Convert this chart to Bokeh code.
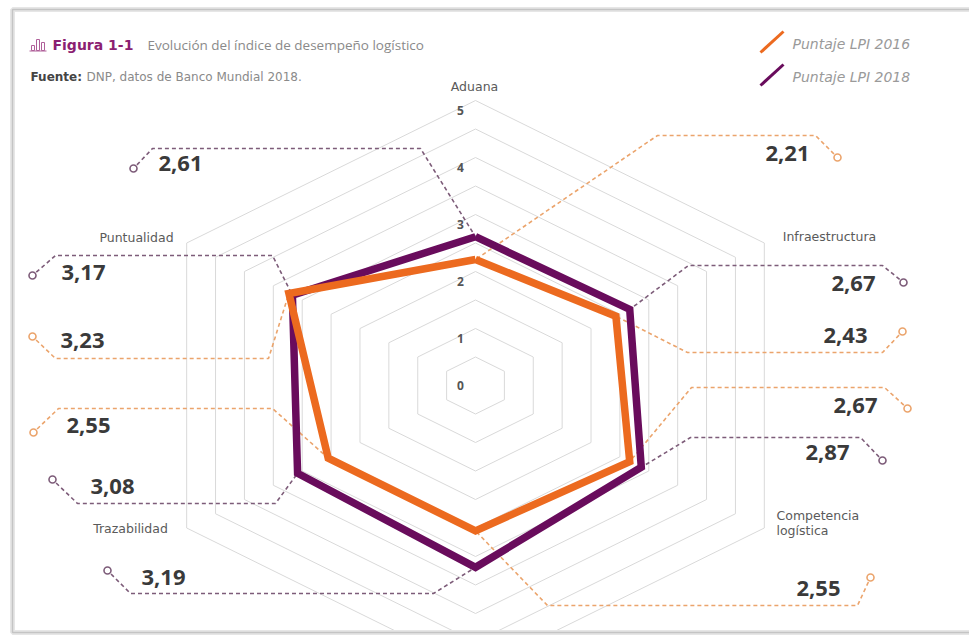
from bokeh.plotting import figure
from bokeh.models import Range1d
from bokeh.core.properties import value
from bokeh.embed import file_html
from bokeh.resources import INLINE
import math

# ---------------- data ----------------
CATEGORIES = ["Aduana", "Infraestructura", "Competencia logística",
              "Envíos internacionales", "Trazabilidad", "Puntualidad"]
ANGLES_DEG = [90, 30, -30, -90, -150, 150]
LPI_2016 = [2.21, 2.43, 2.67, 2.55, 2.55, 3.23]
LPI_2018 = [2.61, 2.67, 2.87, 3.19, 3.08, 3.17]
TICKS = [0, 1, 2, 3, 4, 5]
RINGS = [0.5, 1.0, 1.5, 2.0, 2.5, 3.0, 3.5, 4.0, 4.5, 5.0]
SERIES_NAMES = ["Puntaje LPI 2016", "Puntaje LPI 2018"]

# ---------------- layout / style ----------------
CX, CY = 475.0, 385.0      # chart centre (px)
SX, SY = 66.7, 57.0        # px per value unit (horizontal / vertical)
PURPLE = "#690c5c"
ORANGE = "#ec6a1f"
PURPLE_LEAD = "#7d5c79"
ORANGE_LEAD = "#eba46c"
TXT = "#3a3a3a"
GRAY = "#8a8a8a"
FONT = "Open Sans"
WIDE = "DejaVu Sans"

# leader layout: text centre, circle, knee near circle, far end of horizontal run
LEADERS = {
    ("2018", 0): dict(t=(180, 163), c=(133, 168), k1=(152, 148), k2=(420, 148)),
    ("2016", 0): dict(t=(787, 153), c=(837, 157), k1=(815, 135), k2=(657, 135)),
    ("2018", 1): dict(t=(853, 283), c=(903, 282), k1=(882, 265), k2=(688, 265)),
    ("2016", 1): dict(t=(845, 335), c=(902, 331), k1=(882, 352), k2=(687, 352)),
    ("2016", 2): dict(t=(855, 405), c=(907, 408), k1=(884, 387), k2=(691, 387)),
    ("2018", 2): dict(t=(827, 452), c=(882, 460), k1=(860, 437), k2=(690, 437)),
    ("2016", 3): dict(t=(818, 588), c=(870, 577), k1=(857, 605), k2=(547, 605)),
    ("2018", 3): dict(t=(163, 577), c=(107, 570), k1=(130, 593), k2=(433, 593)),
    ("2018", 4): dict(t=(112, 486), c=(52, 479), k1=(77, 503), k2=(275, 503)),
    ("2016", 4): dict(t=(88, 425), c=(33, 432), k1=(58, 408), k2=(272, 408)),
    ("2018", 5): dict(t=(83, 272), c=(32, 275), k1=(55, 255), k2=(272, 255)),
    ("2016", 5): dict(t=(82, 340), c=(32, 336), k1=(55, 358), k2=(268, 358)),
}

CAT_LABELS = {  # category index -> (x, y, align)
    0: (474, 86, "center"),
    1: (829, 236, "center"),
    2: (776, 515, "left"),
    4: (130, 528, "center"),
    5: (136, 237, "center"),
}


def to_xy(v, ang_deg):
    a = math.radians(ang_deg)
    return CX + v * SX * math.cos(a), CY - v * SY * math.sin(a)


p = figure(width=969, height=644, x_range=Range1d(0, 969), y_range=Range1d(644, 0),
           output_backend="svg", toolbar_location=None, min_border=0,
           x_axis_location=None, y_axis_location=None)
p.grid.visible = False
p.outline_line_color = None
p.background_fill_color = "white"
p.border_fill_color = "white"

# card background
p.quad(left=[12], right=[1000], top=[9], bottom=[632], fill_color="white", line_color=None)

# rings
ring_xs, ring_ys = [], []
for r in RINGS:
    pts = [to_xy(r, a) for a in ANGLES_DEG + [ANGLES_DEG[0]]]
    ring_xs.append([q[0] for q in pts])
    ring_ys.append([q[1] for q in pts])
p.multi_line(ring_xs, ring_ys, line_color="#d9d9d9", line_width=1)

# tick labels on the top axis
tick_x = [CX - 15 for t in TICKS]
tick_y = [to_xy(t, 90)[1] + (10 if t > 0 else 0) for t in TICKS]
p.text(x=tick_x, y=tick_y, text=[str(t) for t in TICKS], text_align="center",
       text_baseline="middle", text_font=value(FONT), text_font_size="12px",
       text_color="#555555", text_font_style="bold")

# leader lines
for key, lay in LEADERS.items():
    ser, idx = key
    vals = LPI_2016 if ser == "2016" else LPI_2018
    vx, vy = to_xy(vals[idx], ANGLES_DEG[idx])
    col = ORANGE_LEAD if ser == "2016" else PURPLE_LEAD
    xs = [lay["c"][0], lay["k1"][0], lay["k2"][0], vx]
    ys = [lay["c"][1], lay["k1"][1], lay["k2"][1], vy]
    dx, dy = xs[1] - xs[0], ys[1] - ys[0]
    d = math.hypot(dx, dy)
    xs[0] += dx / d * 5
    ys[0] += dy / d * 5
    p.line(xs, ys, line_color=col, line_width=1.6, line_dash="4 3")
    p.scatter([lay["c"][0]], [lay["c"][1]], marker="circle", size=7,
              fill_color="white", line_color=col, line_width=1.6)

# polygons (2018 underneath, 2016 on top)
for vals, col in [(LPI_2018, PURPLE), (LPI_2016, ORANGE)]:
    pts = [to_xy(v, a) for v, a in zip(vals + [vals[0]], ANGLES_DEG + [ANGLES_DEG[0]])]
    p.line([q[0] for q in pts], [q[1] for q in pts], line_color=col, line_width=7.5,
           line_join="miter")

# value labels
lab_x, lab_y, lab_t = [], [], []
for key, lay in LEADERS.items():
    ser, idx = key
    vals = LPI_2016 if ser == "2016" else LPI_2018
    lab_x.append(lay["t"][0])
    lab_y.append(lay["t"][1])
    lab_t.append(f"{vals[idx]:.2f}".replace(".", ","))
p.text(x=lab_x, y=lab_y, text=lab_t, text_align="center", text_baseline="middle",
       text_font=value(FONT), text_font_size="22px", text_font_style="bold",
       text_color=TXT)

# category labels
for idx, (lx, ly, al) in CAT_LABELS.items():
    name = CATEGORIES[idx]
    parts = name.split(" ") if idx == 2 else [name]
    p.text(x=[lx] * len(parts), y=[ly + 15 * k for k in range(len(parts))], text=parts,
           text_align=al, text_baseline="middle", text_font=value(WIDE),
           text_font_size="12.5px", text_color="#5a5a5a")

# cover overflow below card and draw card border
p.quad(left=[0], right=[969], top=[633], bottom=[644], fill_color="white", line_color=None)
p.line([1000, 12, 12, 1000], [9, 9, 632, 632], line_color="#e6e6e6", line_width=5)
p.line([1000, 12, 12, 1000], [9, 9, 632, 632], line_color="#c4c4c4", line_width=1.5)

# title icon
p.quad(left=[31, 36, 41], right=[34, 39, 44], top=[45, 39, 42], bottom=[50, 50, 50],
       fill_color=None, line_color="#b0609a", line_width=1)
p.line([29, 46], [50.5, 50.5], line_color="#b0609a", line_width=1)

# title
p.text(x=[52], y=[44], text=["Figura 1-1"], text_align="left", text_baseline="middle",
       text_font=value(WIDE), text_font_size="14px", text_font_style="bold",
       text_color="#8c1f72")
p.text(x=[147], y=[44], text=["Evolución del índice de desempeño logístico"],
       text_align="left", text_baseline="middle", text_font=value(FONT),
       text_font_size="13.5px", text_color=GRAY)
p.text(x=[30], y=[76], text=["Fuente:"], text_align="left", text_baseline="middle",
       text_font=value(WIDE), text_font_size="12px", text_font_style="bold",
       text_color="#444444")
p.text(x=[86], y=[76], text=["DNP, datos de Banco Mundial 2018."], text_align="left",
       text_baseline="middle", text_font=value(WIDE), text_font_size="12px",
       text_color=GRAY)

# legend
for i, (name, col) in enumerate(zip(SERIES_NAMES, [ORANGE, PURPLE])):
    y0 = 52 + i * 33
    p.line([760, 783], [y0, y0 - 21], line_color=col, line_width=3)
    p.text(x=[792], y=[43 + i * 33], text=[name], text_align="left",
           text_baseline="middle", text_font=value(WIDE), text_font_size="14px",
           text_font_style="italic", text_color="#9a9a9a")

open("out.html", "w").write(file_html(p, INLINE))
